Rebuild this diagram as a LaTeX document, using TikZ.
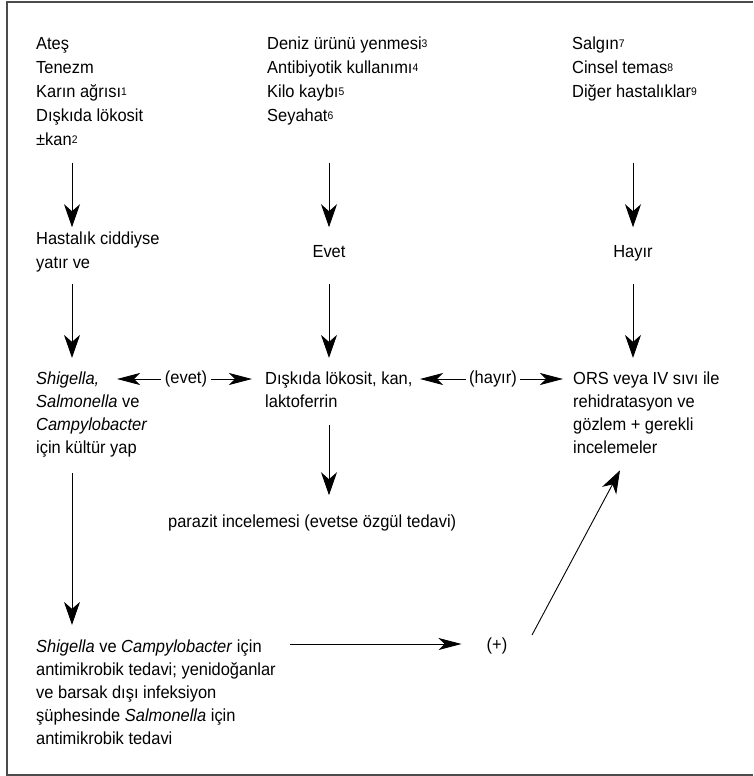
\documentclass[tikz,border=0pt]{standalone}
\usepackage{fontspec}
\setmainfont[FakeStretch=0.94]{Liberation Sans}
\usetikzlibrary{arrows.meta,calc}
\newcommand\sups[1]{\raisebox{2pt}{\fontsize{11}{11}\selectfont #1}}
\begin{document}
\begin{tikzpicture}[x=1pt,y=-1pt,
  txt/.style={anchor=north west, inner sep=0pt, align=left, font=\fontsize{17.5}{24}\selectfont},
  txtb/.style={anchor=north west, inner sep=0pt, align=left, font=\fontsize{17.5}{23}\selectfont},
  lbl/.style={inner sep=0pt, font=\fontsize{17.5}{24}\selectfont},
  arrV/.style={line width=0.9pt, -{Stealth[length=23pt,width=16pt,inset=7pt]}},
  arrH/.style={line width=0.9pt, -{Stealth[length=23pt,width=12pt,inset=6pt]}},
  frame/.style={line width=1.3pt, black!70}
]
\useasboundingbox (0,0) rectangle (753,776);
\draw[frame] (753,2) -- (7,2) -- (7,775) -- (753,775);

\coordinate (cA) at (72,0);
\coordinate (cB) at (329,0);
\coordinate (cC) at (633,0);

% row 1
\node[txt] (c1top) at (36,32.2) {\strut Ateş\\\strut Tenezm\\\strut Karın ağrısı\sups{1}\\\strut Dışkıda lökosit\\\strut ±kan\sups{2}};
\node[txt] (c2top) at (267,32.2) {\strut Deniz ürünü yenmesi\sups{3}\\\strut Antibiyotik kullanımı\sups{4}\\\strut Kilo kaybı\sups{5}\\\strut Seyahat\sups{6}};
\node[txt] (c3top) at (572,32.2) {\strut Salgın\sups{7}\\\strut Cinsel temas\sups{8}\\\strut Diğer hastalıklar\sups{9}};

% row 2
\node[txt] (hast) at (36,227.2) {\strut Hastalık ciddiyse\\\strut yatır ve};
\node[lbl, anchor=base] (evet) at (329,257) {Evet};
\node[lbl, anchor=base] (hayir) at (633,257) {Hayır};

% row 3
\node[txtb] (shig) at (36,367.9) {\strut\textit{Shigella,}\\\strut\textit{Salmonella} ve\\\strut\textit{Campylobacter}\\\strut için kültür yap};
\node[txtb] (disk) at (265,367.9) {\strut Dışkıda lökosit, kan,\\\strut laktoferrin};
\node[txtb] (ors) at (573,367.9) {\strut ORS veya IV sıvı ile\\\strut rehidratasyon ve\\\strut gözlem + gerekli\\\strut incelemeler};
\node[lbl, inner xsep=4pt] (evetl) at (186,379) {(evet)};
\node[lbl, inner xsep=3pt] (hayirl) at (493,379) {(hayır)};

% row 4
\node[txt] (parazit) at (168,510.2) {\strut parazit incelemesi (evetse özgül tedavi)};

% row 5
\node[txtb] (bot) at (36,635.9) {\strut\textit{Shigella} ve \textit{Campylobacter} için\\\strut antimikrobik tedavi; yenidoğanlar\\\strut ve barsak dışı infeksiyon\\\strut şüphesinde \textit{Salmonella} için\\\strut antimikrobik tedavi};
\node[lbl] (plus) at (497,646) {(+)};

% helper coordinates
\coordinate (r1s) at ($(c1top.south)+(0,10)$);
\coordinate (r2s) at ($(hast.south)+(0,8)$);
\coordinate (r2e) at ($(shig.north)+(0,-10)$);
\coordinate (dks) at ($(disk.south)+(0,11)$);
\coordinate (pze) at ($(parazit.north)+(0,-15)$);
\coordinate (shs) at ($(shig.south)+(0,13)$);
\coordinate (bte) at ($(bot.north)+(0,-11)$);

% vertical arrows
\draw[arrV] (r1s -| cA) -- (hast.north -| cA);
\draw[arrV] (r1s -| cB) -- (hast.north -| cB);
\draw[arrV] (r1s -| cC) -- (hast.north -| cC);
\draw[arrV] (r2s -| cA) -- (r2e -| cA);
\draw[arrV] (r2s -| cB) -- (r2e -| cB);
\draw[arrV] (r2s -| cC) -- (r2e -| cC);
\draw[arrV] (dks -| cB) -- (pze -| cB);
\draw[arrV] (shs -| cA) -- (bte -| cA);

% horizontal arrows
\draw[arrH] (evetl.west) -- ($(shig.west |- evetl.west)+(81,0)$);
\draw[arrH] (evetl.east) -- ($(disk.west |- evetl.east)+(-13,0)$);
\draw[arrH] (hayirl.west) -- ($(disk.west |- hayirl.west)+(155,0)$);
\draw[arrH] (hayirl.east) -- ($(ors.west |- hayirl.east)+(-10,0)$);
\draw[arrH] ($(bot.west |- plus.west)+(254,-2)$) -- ($(plus.west)+(-25,-2)$);
\draw[arrV] ($(plus.center)+(35,-11)$) -- ($(ors.south west)+(47,10)$);
\end{tikzpicture}
\end{document}
